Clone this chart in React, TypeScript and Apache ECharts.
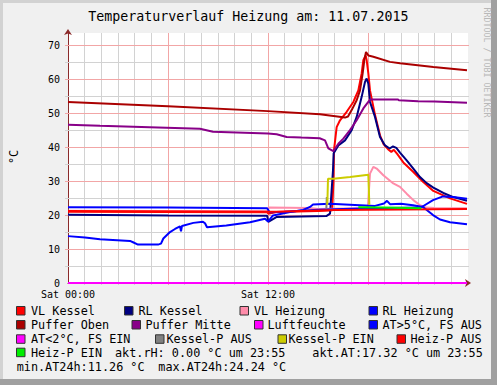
import React, { useEffect, useRef } from "react";
import * as echarts from "echarts";

// ---- data (x in hours since Sat 00:00, y in °C) ----
const xLabels: Record<number, string> = { 0: "Sat 00:00", 12: "Sat 12:00" };
const yTickLabels = [0, 10, 20, 30, 40, 50, 60, 70];
const xGridHours = [1, 2, 3, 4, 5, 6, 7, 8, 9, 10, 11, 12, 13, 14, 15, 16, 17, 18, 19, 20, 21, 22, 23];
const xMajorHours = [6, 12, 18];
const yGridValues = [5, 10, 15, 20, 25, 30, 35, 40, 45, 50, 55, 60, 65, 70];
const yMajorValues = [10, 20, 30, 40, 50, 60, 70];

const vlKessel: [number, number][] = [
  [0, 21.0], [6, 20.9], [11.95, 20.8], [12.02, 20.4], [12.5, 20.9], [15, 21.2], [15.85, 21.4],
  [15.93, 30], [15.96, 39.1], [16.12, 45.9], [16.32, 47.9], [16.72, 50.4], [17.12, 53.3],
  [17.42, 56.7], [17.62, 61.7], [17.72, 65.6], [17.86, 67.0], [17.92, 65.6], [18.02, 61.7],
  [18.12, 56.7], [18.42, 49.5], [18.72, 43.5], [18.92, 41.0], [19.2, 39.4], [19.4, 38.6],
  [19.55, 39.2], [19.75, 38.0], [20.12, 35.5], [20.72, 32.7], [21.3, 29.8], [21.92, 27.1],
  [22.92, 24.9], [23.94, 23.3],
];
const rlKessel: [number, number][] = [
  [0, 20.1], [6, 19.9], [11.95, 19.8], [12.02, 18.0], [12.5, 19.4], [15.5, 19.7], [15.72, 20.4],
  [15.9, 33.2], [15.94, 38.2], [16.22, 40.5], [16.62, 42.0], [17.02, 45.0], [17.32, 48.9],
  [17.62, 54.8], [17.82, 59.2], [17.92, 60.2], [18.02, 58.7], [18.12, 53.3], [18.42, 48.9],
  [18.72, 43.0], [19.02, 40.5], [19.3, 39.6], [19.5, 40.2], [19.7, 39.8], [19.92, 38.4],
  [20.32, 36.1], [20.72, 33.7], [21.12, 31.2], [21.52, 29.4], [21.92, 28.1], [22.52, 26.5],
  [23.12, 25.3], [23.94, 24.2],
];
const vlHeizung: [number, number][] = [
  [0, 21.3], [11.95, 21.1], [12.05, 22.2], [14.5, 22.1], [15, 21.8], [17.95, 22.0], [18.0, 23.0],
  [18.12, 32.2], [18.32, 34.2], [18.52, 33.7], [18.92, 31.7], [19.52, 29.3], [19.92, 28.3],
  [20.32, 26.3], [20.72, 24.4], [21.12, 22.9], [21.5, 22.2], [22, 22.1], [23.94, 22.0],
];
const rlHeizung: [number, number][] = [
  [0, 22.3], [6, 22.2], [11.95, 22.0], [12.1, 20.8], [13, 21.0], [15, 21.6], [18, 22.0],
  [21.1, 22.2], [21.3, 22.6], [21.9, 24.4], [22.5, 25.5], [23.1, 25.3], [23.94, 24.8],
];
const pufferOben: [number, number][] = [
  [0, 53.3], [6, 52.0], [12, 50.6], [15.12, 49.7], [16.62, 48.7], [16.8, 49.0], [17.02, 50.9],
  [17.32, 53.8], [17.52, 56.7], [17.68, 61.7], [17.78, 65.6], [17.88, 68.0], [18.02, 67.0],
  [18.32, 66.6], [19.32, 65.1], [19.92, 64.7], [21.92, 63.6], [23.94, 62.6],
];
const pufferMitte: [number, number][] = [
  [0, 46.6], [1.92, 46.3], [5.9, 45.7], [7.92, 45.4], [8.7, 44.5], [12, 44.0], [12.52, 43.8],
  [13.12, 43.0], [14, 42.8], [15.1, 42.6], [15.42, 42.0], [15.62, 39.6], [15.92, 38.8],
  [16.22, 41.0], [16.52, 42.5], [16.92, 45.0], [17.32, 47.9], [17.72, 51.4], [18.12, 54.0],
  [19.8, 54.0], [19.85, 53.8], [21, 53.5], [22, 53.4], [23.94, 53.1],
];
const luftfeuchte: [number, number][] = [[0, 0], [23.94, 0]];
const atWarm: [number, number][] = [
  [0, 13.8], [1.02, 13.4], [1.92, 12.9], [3.72, 12.4], [3.9, 12.0], [4.2, 11.3], [5.4, 11.3],
  [5.58, 11.6], [5.72, 13.1], [6.12, 15.0], [6.42, 15.9], [6.72, 16.7], [6.78, 15.2], [6.84, 16.8],
  [7.52, 17.7], [8.1, 18.0], [8.22, 17.6], [8.34, 16.4], [9.5, 16.9], [10.92, 17.9],
  [11.82, 18.9], [12.0, 18.1], [12.3, 19.9], [13.32, 20.9], [14.1, 21.5], [14.52, 22.4],
  [14.7, 23.1], [15.72, 23.3], [17.52, 22.9], [18.42, 22.7], [18.96, 23.4], [19.14, 24.2],
  [19.32, 23.2], [19.98, 23.3], [20.7, 22.9], [21.3, 22.4], [21.9, 20.0], [22.32, 18.7],
  [22.92, 17.9], [23.94, 17.3],
];
const atCold: [number, number][] = [];
const kesselPAus: [number, number][] = [[15.5, 21.9], [15.53, 25.3], [15.56, 25.3]];
const kesselPEin: [number, number][] = [
  [15.56, 23.0], [15.6, 30.7], [15.92, 30.7], [16.92, 31.2], [18.02, 31.9], [18.08, 23.0],
];
const heizPAus: [number, number][] = [
  [0, 21.2], [11.95, 21.0], [12.5, 21.0], [16, 21.5], [23.94, 21.8],
];
const heizPEin: [number, number][] = [[17.42, 22.3], [19, 22.2], [21.2, 22.0]];

const seriesNames = [
  "VL Kessel", "RL Kessel", "VL Heizung", "RL Heizung",
  "Puffer Oben", "Puffer Mitte", "Luftfeuchte", "AT>5°C, FS AUS",
  "AT<2°C, FS EIN", "Kessel-P AUS", "Kessel-P EIN", "Heiz-P AUS", "Heiz-P EIN",
];
const seriesColors = [
  "#ff0000", "#000080", "#ff8caa", "#0000ff",
  "#aa0000", "#880088", "#ff00ff", "#0000ff",
  "#ff00ff", "#808080", "#cccc00", "#ff0000", "#00ee00",
];
const seriesData = [
  vlKessel, rlKessel, vlHeizung, rlHeizung, pufferOben, pufferMitte, luftfeuchte,
  atWarm, atCold, kesselPAus, kesselPEin, heizPAus, heizPEin,
];

const infoTexts = [
  "akt.rH: 0.00 °C um 23:55",
  "akt.AT:17.32 °C um 23:55",
  "min.AT24h:11.26 °C",
  "max.AT24h:24.24 °C",
];
const titleText = "Temperaturverlauf Heizung am: 11.07.2015";

const MONO = "DejaVu Sans Mono, Liberation Mono, monospace";
const LEG_FONT = `11.8px ${MONO}`;
const Y_MAX = 73.6;

export default function App() {
  const ref = useRef<HTMLDivElement>(null);
  useEffect(() => {
    if (!ref.current) return;
    const chart = echarts.init(ref.current, null, { renderer: "svg" });

    const major = "#f2a6a6";
    const minor = "#d2d2d2";
    const axisColor = "#8b2a2a";

    // grid-line items: [x, y, orientation (0 = vertical, 1 = horizontal), isMajor]
    const gridItems: number[][] = [];
    xGridHours.filter((h) => !xMajorHours.includes(h)).forEach((h) => gridItems.push([h, 0, 0, 0]));
    yGridValues.filter((v) => !yMajorValues.includes(v)).forEach((v) => gridItems.push([0, v, 1, 0]));
    xMajorHours.forEach((h) => gridItems.push([h, 0, 0, 1]));
    yMajorValues.forEach((v) => gridItems.push([0, v, 1, 1]));
    const crisp = (v: number) => Math.round(v - 0.5) + 0.5;

    const gridSeries = {
      type: "custom",
      name: "grid",
      coordinateSystem: "cartesian2d",
      z: 1,
      silent: true,
      clip: false,
      encode: { x: 0, y: 1 },
      data: gridItems,
      renderItem: (_params: any, api: any) => {
        const x = api.value(0);
        const y = api.value(1);
        const horiz = api.value(2) === 1;
        const color = api.value(3) === 1 ? major : minor;
        if (horiz) {
          const a = api.coord([0, y]);
          const b = api.coord([24, y]);
          const yy = crisp(a[1]);
          return { type: "line", silent: true, shape: { x1: a[0] - 3, y1: yy, x2: b[0] + 1, y2: yy }, style: { stroke: color, lineWidth: 1, fill: null } };
        }
        const a = api.coord([x, 0]);
        const b = api.coord([x, Y_MAX]);
        const xx = crisp(a[0]);
        return { type: "line", silent: true, shape: { x1: xx, y1: b[1], x2: xx, y2: a[1] + 2 }, style: { stroke: color, lineWidth: 1, fill: null } };
      },
    };

    const legendCells: { sx: number; tx: number; row: number }[] = [
      { sx: 16, tx: 31, row: 0 }, { sx: 124, tx: 138.5, row: 0 }, { sx: 239.5, tx: 254, row: 0 }, { sx: 368.5, tx: 382.5, row: 0 },
      { sx: 16, tx: 31, row: 1 }, { sx: 131.5, tx: 145.5, row: 1 }, { sx: 254, tx: 267.5, row: 1 }, { sx: 368.5, tx: 382.5, row: 1 },
      { sx: 16, tx: 31, row: 2 }, { sx: 155, tx: 166.5, row: 2 }, { sx: 277.5, tx: 288.5, row: 2 }, { sx: 396.5, tx: 410.5, row: 2 },
      { sx: 16, tx: 31, row: 3 },
    ];
    const rowY = [311, 325, 339.3, 352.7, 367.3];
    const graphics: any[] = [];
    graphics.push({ type: "rect", silent: true, shape: { x: 0, y: 0, width: 497, height: 3 }, style: { fill: "#d2d2d2" } });
    graphics.push({ type: "rect", silent: true, shape: { x: 0, y: 0, width: 3, height: 385 }, style: { fill: "#d2d2d2" } });
    graphics.push({ type: "rect", silent: true, shape: { x: 491, y: 0, width: 6, height: 385 }, style: { fill: "#a0a0a0" } });
    graphics.push({ type: "rect", silent: true, shape: { x: 0, y: 379, width: 497, height: 6 }, style: { fill: "#a0a0a0" } });
    graphics.push({
      type: "text", x: 248.3, y: 16, silent: true,
      style: { text: titleText, font: `13.3px ${MONO}`, fill: "#000", textAlign: "center", textVerticalAlign: "middle" },
    });
    graphics.push({
      type: "text", x: 487, y: 62.5, rotation: -Math.PI / 2, silent: true,
      style: { text: "RRDTOOL / TOBI OETIKER", font: `8.3px ${MONO}`, fill: "#b8b8b8", textAlign: "center", textVerticalAlign: "middle" },
    });
    graphics.push({
      type: "text", x: 14, y: 157, rotation: Math.PI / 2, silent: true,
      style: { text: "°C", font: LEG_FONT, fill: "#000", textAlign: "center", textVerticalAlign: "middle" },
    });
    legendCells.forEach((c, i) => {
      const cy = rowY[c.row];
      graphics.push({
        type: "rect", silent: true,
        shape: { x: c.sx + 0.5, y: cy - 4.5, width: 8.5, height: 8.5 },
        style: { fill: seriesColors[i], stroke: "#333", lineWidth: 1 },
      });
      graphics.push({
        type: "text", x: c.tx, y: cy, silent: true,
        style: { text: seriesNames[i], font: LEG_FONT, fill: "#000", textAlign: "left", textVerticalAlign: "middle" },
      });
    });
    const infoPos = [
      { x: 115, row: 3 }, { x: 312.3, row: 3 }, { x: 16.7, row: 4 }, { x: 158.3, row: 4 },
    ];
    infoTexts.forEach((t, i) => {
      graphics.push({
        type: "text", x: infoPos[i].x, y: rowY[infoPos[i].row], silent: true,
        style: { text: t, font: LEG_FONT, fill: "#000", textAlign: "left", textVerticalAlign: "middle" },
      });
    });

    chart.setOption({
      animation: false,
      backgroundColor: "#f0f0f0",
      grid: { left: 68, top: 33, width: 400, height: 250, show: true, backgroundColor: "#ffffff", borderWidth: 0 },
      xAxis: {
        type: "value", min: 0, max: 24, interval: 6,
        axisLine: { show: true, lineStyle: { color: axisColor, width: 1 }, symbol: ["none", "arrow"], symbolSize: [6, 6], symbolOffset: [0, 3] },
        axisTick: { show: false },
        axisLabel: {
          margin: 6, color: "#000", fontFamily: MONO, fontSize: 10,
          formatter: (v: number) => xLabels[v] ?? "",
        },
        splitLine: { show: false },
      },
      yAxis: {
        type: "value", min: 0, max: Y_MAX, interval: 10,
        axisLine: { show: true, lineStyle: { color: axisColor, width: 1 }, symbol: ["none", "arrow"], symbolSize: [6, 6], symbolOffset: [0, 4] },
        axisTick: { show: false },
        axisLabel: {
          margin: 8, color: "#000", fontFamily: MONO, fontSize: 10,
          formatter: (v: number) => (yTickLabels.includes(v) ? String(v) : ""),
        },
        splitLine: { show: false },
      },
      graphic: graphics,
      series: [
        gridSeries,
        ...seriesData.map((d, i) => ({
          name: seriesNames[i],
          type: "line",
          z: 5,
          data: d,
          showSymbol: false,
          symbol: "none",
          silent: true,
          lineStyle: { color: seriesColors[i], width: 2 },
          itemStyle: { color: seriesColors[i] },
        })),
      ],
    });

    return () => chart.dispose();
  }, []);
  return <div ref={ref} style={{ position: "fixed", left: 0, top: 0, width: 497, height: 385 }} />;
}
